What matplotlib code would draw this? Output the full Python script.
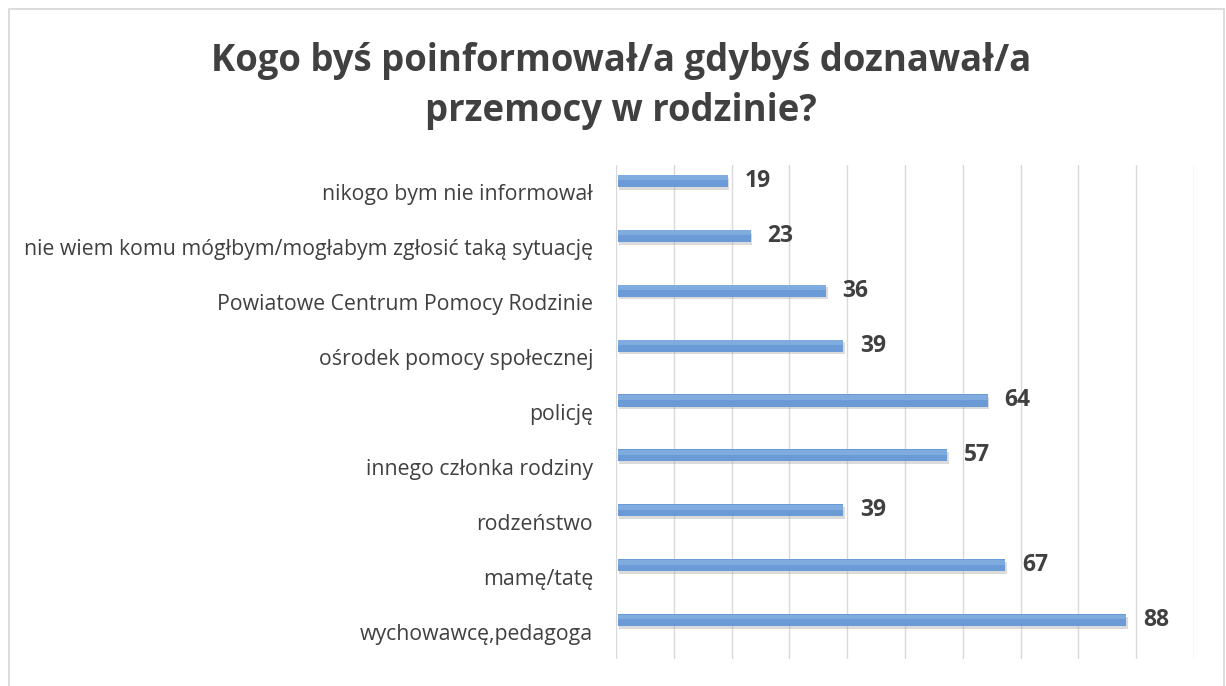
import numpy as np
import matplotlib.pyplot as plt
from matplotlib.patches import Rectangle

# data (top to bottom as in the picture)
categories = [
    'nikogo bym nie informował',
    'nie wiem komu mógłbym/mogłabym zgłosić taką sytuację',
    'Powiatowe Centrum Pomocy Rodzinie',
    'ośrodek pomocy społecznej',
    'policję',
    'innego członka rodziny',
    'rodzeństwo',
    'mamę/tatę',
    'wychowawcę,pedagoga',
]
values = [19, 23, 36, 39, 64, 57, 39, 67, 88]

title = 'Kogo byś poinformował/a gdybyś doznawał/a\nprzemocy w rodzinie?'

plt.rcParams['font.family'] = ['Open Sans', 'DejaVu Sans']
txt_color = '#404040'
bar_color = '#6a9bd6'

fig = plt.figure(figsize=(12.26, 6.86), dpi=100)
fig.patch.set_facecolor('white')

# chart frame
fig.patches.append(Rectangle((9/1226, -0.01), 1215/1226, 1 - 9/686 + 0.01,
                             transform=fig.transFigure, fill=False,
                             edgecolor='#d6d6d6', linewidth=1.2))

ax = fig.add_axes([616/1226, 27/686, 578/1226, 494/686])

y = np.arange(len(categories))
off = 0.21   # bars sit a bit above the label line (3d look)
h = 0.22

ax.barh(y - off + 0.05, values, height=h, left=0.6, color='#9a9a9a', alpha=0.35, zorder=2)
ax.barh(y - off, values, height=h, left=0.3, color=bar_color, zorder=3)
ax.barh(y - off - h/4, values, height=h/2.5, left=0.3, color='#8fb6e6', alpha=0.6, zorder=4)

for yi, v in zip(y, values):
    ax.text(v + 3.2, yi - off, str(v), va='center', ha='left', fontsize=16.5,
            fontweight='bold', color=txt_color)

ax.set_xlim(0, 100)
ax.set_ylim(len(categories) - 0.5, -0.5)
ax.set_xticks(np.arange(0, 101, 10))
ax.set_xticklabels([])
ax.set_yticks(y)
ax.set_yticklabels(categories, fontsize=15.3, color=txt_color)
ax.tick_params(length=0, pad=16.5)
ax.grid(axis='x', color='#d9d9d9', linewidth=1)
ax.set_axisbelow(True)
for s in ax.spines.values():
    s.set_visible(False)

fig.text(621/1226, 1 - 86/686, title, ha='center', va='center', fontsize=26.3,
         fontweight='bold', color=txt_color, linespacing=1.42)

fig.savefig('out.png', dpi=100)
